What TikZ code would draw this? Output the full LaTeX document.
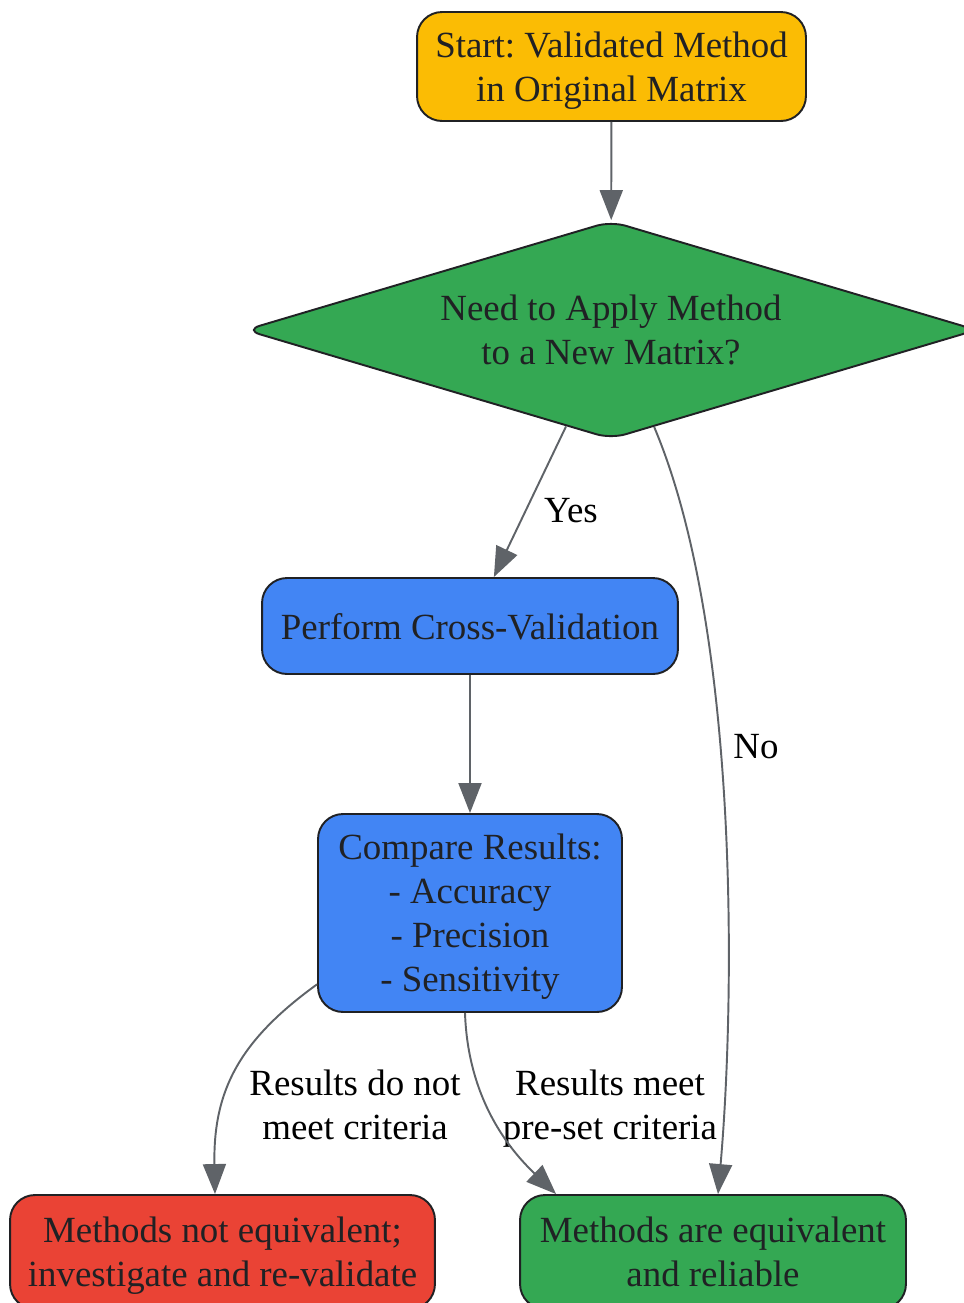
\documentclass[tikz,border=0pt]{standalone}
\usepackage{fontspec}
\setmainfont{Liberation Serif}
\usetikzlibrary{shapes.geometric,arrows.meta}
\definecolor{startyellow}{HTML}{FBBC04}
\definecolor{okgreen}{HTML}{34A853}
\definecolor{stepblue}{HTML}{4285F4}
\definecolor{failred}{HTML}{EA4335}
\definecolor{inkdark}{HTML}{202124}
\definecolor{edgegray}{HTML}{5F6368}
\frenchspacing
\tikzset{
  every node/.style={font=\fontsize{21}{25.1}\selectfont, text depth=0pt},
  box/.style={draw=inkdark, line width=1.1pt, rounded corners=0.5cm, align=center, text=inkdark, inner sep=0pt},
  flow/.style={edgegray, line width=1.1pt, -{Triangle[length=0.6cm,width=0.46cm]}},
  lbl/.style={align=center, text=black, inner sep=0pt}
}

\begin{document}
\begin{tikzpicture}[x=0.02cm, y=-0.02cm]
    \useasboundingbox (0,0) rectangle (964,1303);
    \node[box, fill=startyellow, minimum width=7.78cm, minimum height=2.18cm] (start) at (611.5,66.5) {Start: Validated Method\\in Original Matrix};
    \node[diamond, aspect=3.4, draw=inkdark, line width=1.1pt, rounded corners=0.3cm, fill=okgreen, text=inkdark, align=center, inner sep=0pt, minimum width=14.64cm, minimum height=4.36cm] (apply) at (611,330) {Need to Apply Method\\to a New Matrix?};
    \node[box, fill=stepblue, minimum width=8.32cm, minimum height=1.92cm] (perform) at (470,626) {Perform Cross-Validation};
    \node[box, fill=stepblue, minimum width=6.08cm, minimum height=3.96cm] (compare) at (470,913) {Compare Results:\\- Accuracy\\- Precision\\- Sensitivity};
    \node[box, fill=failred, minimum width=8.5cm, minimum height=2.28cm] (fail) at (222.5,1252) {Methods not equivalent;\\investigate and re-validate};
    \node[box, fill=okgreen, minimum width=7.72cm, minimum height=2.28cm] (final) at (713,1252) {Methods are equivalent\\and reliable};
    % edge labels
    \node[lbl] (yes) at (571,510) {Yes};
    \node[lbl] (no) at (756,746) {No};
    \node[lbl] (fails) at (355,1105) {Results do not\\meet criteria};
    \node[lbl] (meets) at (610,1105) {Results meet\\pre-set criteria};
    \draw[flow] (start) -- (apply);
    \draw[flow] (apply.245) -- (perform.64);
    \draw[flow] (apply.294) .. controls (740,630) and (735,1000) .. ([xshift=0.1cm]final.north);
    \draw[flow] (perform) -- (compare);
    \draw[flow] (compare.205) .. controls (240,1040) and (213,1090) .. ([xshift=-0.15cm]fail.north);
    \draw[flow] ([xshift=-0.1cm]compare.south) .. controls (468,1100) and (510,1150) .. ([xshift=0.74cm]final.north west);
\end{tikzpicture}
\end{document}
